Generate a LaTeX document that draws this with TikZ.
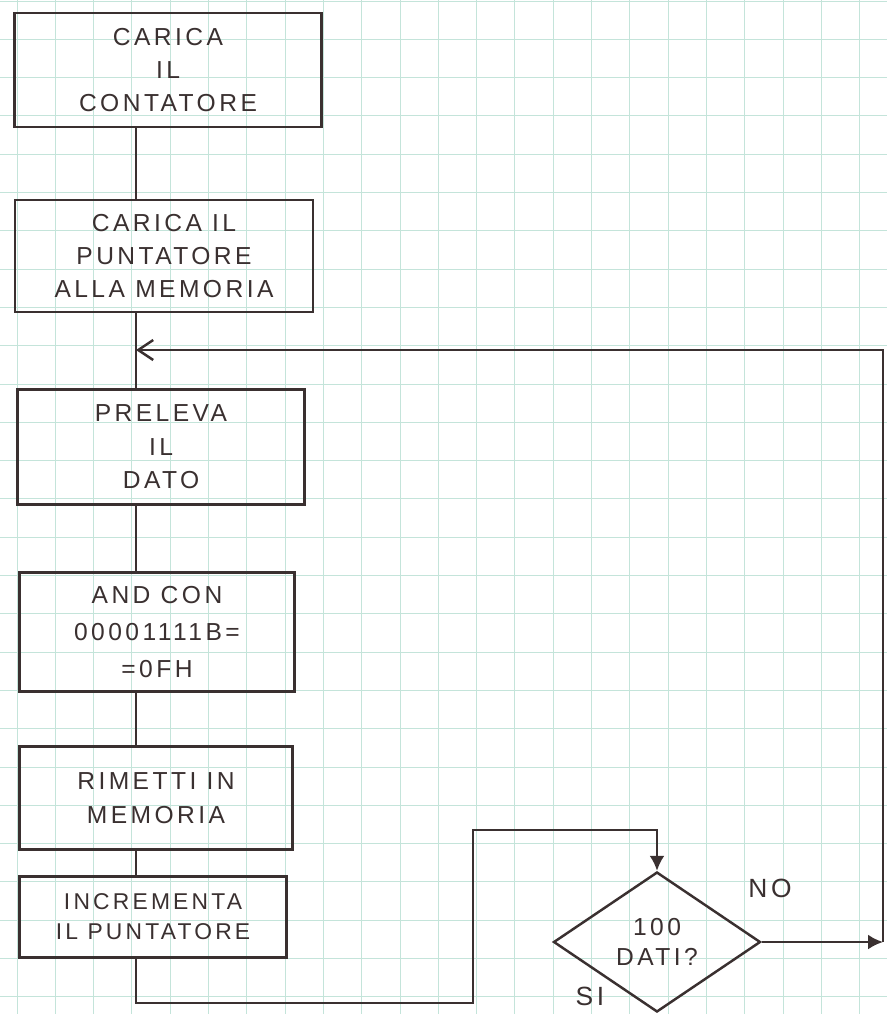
\documentclass[tikz,border=0pt]{standalone}
\usepackage{fontspec}
\newfontfamily\hand{Liberation Sans}[LetterSpace=14]
\usetikzlibrary{arrows.meta,shapes.geometric}
\definecolor{ink}{RGB}{58,48,48}
\definecolor{gridpaper}{RGB}{196,228,218}

\begin{document}
\begin{tikzpicture}[
    x=0.02cm, y=-0.02cm,
    box/.style={rectangle, draw=ink, line width=1.4pt, align=center, text=ink,
                font=\hand\fontsize{14}{19}\selectfont, inner sep=2pt},
    test/.style={diamond, draw=ink, line width=1.4pt, align=center, text=ink, inner sep=0pt,
                 minimum width=4.14cm, minimum height=2.8cm, font=\hand\fontsize{14}{17}\selectfont},
    lbl/.style={text=ink, font=\hand\fontsize{15}{17}\selectfont},
    link/.style={draw=ink, line width=1.4pt},
    arr/.style={link, -{Latex[length=3mm, width=3mm]}},
    backarr/.style={link, -{Straight Barb[length=3mm, width=4mm]}}
]
\useasboundingbox (0,0) rectangle (887,1014);
% squared paper
\fill[white] (0,0) rectangle (887,1014);
\foreach \i in {0,...,23} {
  \draw[gridpaper, line width=0.5pt] (17+38.3*\i,0) -- (17+38.3*\i,1014);
}
\foreach \j in {0,...,26} {
  \draw[gridpaper, line width=0.5pt] (0,1+38.3*\j) -- (887,1+38.3*\j);
}

% main column
\node[box, minimum width=6.14cm, minimum height=2.28cm] (b1) at (168,70) {CARICA\\IL\\CONTATORE};
\node[box, minimum width=5.96cm, minimum height=2.24cm] (b2) at (164,256) {CARICA IL\\PUNTATORE\\ALLA MEMORIA};
\node[box, minimum width=5.74cm, minimum height=2.30cm] (b3) at (161,447) {PRELEVA\\IL\\DATO};
\node[box, minimum width=5.50cm, minimum height=2.38cm, font=\hand\fontsize{14}{21}\selectfont] (b4) at (157,632) {AND CON\\00001111B=\\=0FH};
\node[box, minimum width=5.46cm, minimum height=2.06cm] (b5) at (156,798) {RIMETTI IN\\MEMORIA};
\node[box, minimum width=5.34cm, minimum height=1.62cm, font=\hand\fontsize{13}{17}\selectfont] (b6) at (153,917) {INCREMENTA\\IL PUNTATORE};

% decision
\node[test] (q) at (657,942) {100\\DATI?};
\node[lbl] (no) at (770,888) {NO};
\node[lbl] (si) at (590,996) {SI};

\coordinate (spine) at (136,0);
\coordinate (ret) at (136,350);
\coordinate (low) at (473,1003);
\coordinate (high) at (473,830);
\coordinate (nocorner) at (883,942);

\draw[link] (b1.south -| spine) -- (b2.north -| spine);
\draw[link] (b2.south -| spine) -- (b3.north -| spine);
\draw[link] (b3.south -| spine) -- (b4.north -| spine);
\draw[link] (b4.south -| spine) -- (b5.north -| spine);
\draw[link] (b5.south -| spine) -- (b6.north -| spine);
\draw[arr] (b6.south -| spine) |- (low) -- (high) -| (q.north);
\draw[arr] (q.east) -- (nocorner);
\draw[backarr] (nocorner) |- (ret);
\end{tikzpicture}
\end{document}
